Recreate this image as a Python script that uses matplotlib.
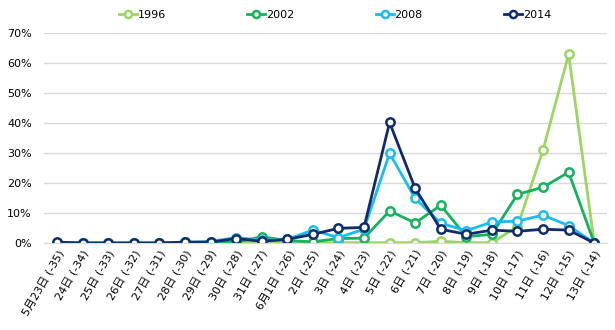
import matplotlib
matplotlib.use('Agg')
import matplotlib.pyplot as plt
from matplotlib.ticker import FuncFormatter

plt.rcParams['font.family'] = ['DejaVu Sans', 'Noto Sans CJK JP']

days = ['5月23日 (-35)', '24日 (-34)', '25日 (-33)', '26日 (-32)', '27日 (-31)',
        '28日 (-30)', '29日 (-29)', '30日 (-28)', '31日 (-27)', '6月1日 (-26)',
        '2日 (-25)', '3日 (-24)', '4日 (-23)', '5日 (-22)', '6日 (-21)',
        '7日 (-20)', '8日 (-19)', '9日 (-18)', '10日 (-17)', '11日 (-16)',
        '12日 (-15)', '13日 (-14)']

y1996 = [0.0, 0.0, 0.0, 0.0, 0.0, 0.0, 0.0, 0.2, 0.2, 0.2,
         0.1, 0.1, 0.1, 0.1, 0.1, 0.6, 0.1, 0.1, 5.5, 31.0,
         63.0, 0.0]
y2002 = [0.0, 0.0, 0.0, 0.0, 0.0, 0.2, 0.2, 0.3, 2.1, 0.8,
         0.4, 1.5, 1.6, 10.7, 6.7, 12.6, 2.1, 2.9, 16.2, 18.6,
         23.6, 0.0]
y2008 = [0.0, 0.0, 0.0, 0.0, 0.0, 0.2, 0.5, 1.8, 1.0, 1.2,
         4.3, 1.8, 4.6, 29.9, 14.9, 6.6, 4.1, 7.0, 7.3, 9.3,
         5.8, 0.0]
y2014 = [0.3, 0.0, 0.0, 0.0, 0.0, 0.3, 0.3, 1.5, 0.6, 1.2,
         2.9, 4.9, 5.2, 40.2, 18.2, 4.6, 2.9, 4.3, 3.9, 4.6,
         4.3, 0.0]

series = [('1996', y1996, '#9BD562'), ('2002', y2002, '#12B35A'),
          ('2008', y2008, '#17BDEF'), ('2014', y2014, '#0E2C6B')]

fig = plt.figure(figsize=(6.15, 3.3), dpi=100)
ax = fig.add_axes([0.072, 0.2636, 0.915, 0.636])

x = list(range(len(days)))
for name, vals, col in series:
    ax.plot(x, vals, color=col, lw=2, marker='o', ms=6, mfc='white',
            mec=col, mew=1.8, label=name)

ax.set_xlim(-0.5, len(days) - 0.5)
ax.set_ylim(0, 70)
ax.set_yticks(range(0, 71, 10))
ax.yaxis.set_major_formatter(FuncFormatter(lambda v, p: f'{int(v)}%'))
ax.grid(axis='y', color='#D9D9D9', lw=1)
ax.set_axisbelow(True)
for s in ['top', 'right', 'left']:
    ax.spines[s].set_visible(False)
ax.spines['bottom'].set_color('#D9D9D9')
ax.tick_params(length=0, labelsize=8, pad=4)
ax.tick_params(axis='y', pad=9)
ax.set_xticks(x)
ax.set_xticklabels(days, rotation=60, ha='right', rotation_mode='anchor', fontsize=8)

fig.legend(loc='upper center', bbox_to_anchor=(0.545, 1.0), ncol=4, frameon=False,
           fontsize=8, handlelength=1.6, handletextpad=0.1, columnspacing=7.3,
           markerscale=0.85)

fig.savefig('out.png', dpi=100)
